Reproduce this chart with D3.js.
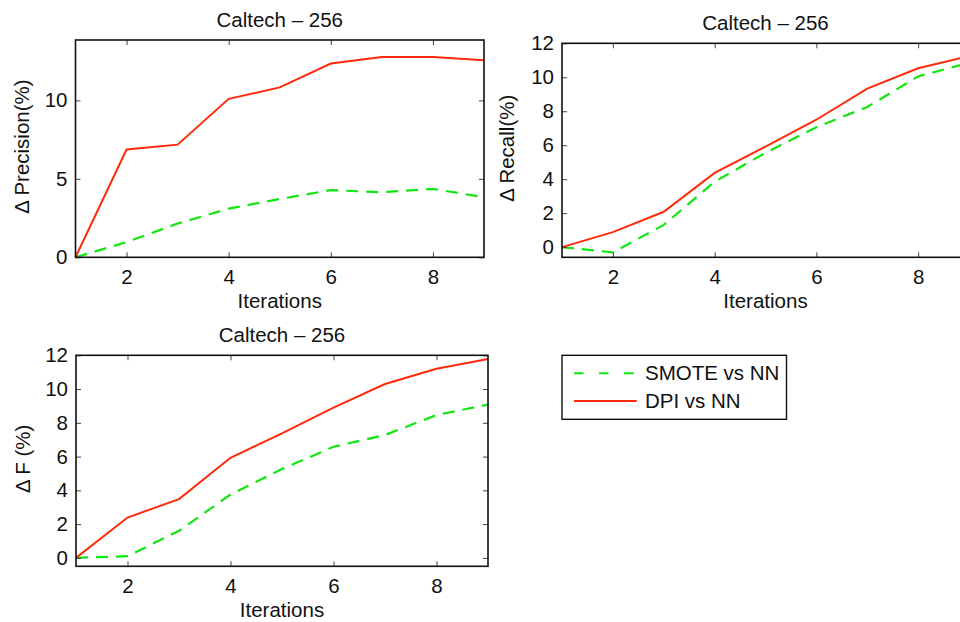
<!DOCTYPE html>
<html>
<head>
<meta charset="utf-8">
<script src="https://cdn.jsdelivr.net/npm/d3@7"></script>
<style>
    body { margin: 0; background: #fff; }
    svg { display: block; font-family: "Liberation Sans", Arial, Helvetica, sans-serif; }
</style>
</head>
<body>
<div id="chart"></div>
<script>
// iterations on the x axis
var iterations = [1, 2, 3, 4, 5, 6, 7, 8, 9];

// Delta precision (%)
var precisionSmote = [0, 0.97, 2.15, 3.1, 3.72, 4.28, 4.15, 4.36, 3.83];
var precisionDpi = [0, 6.87, 7.18, 10.1, 10.83, 12.35, 12.77, 12.77, 12.56];

// Delta recall (%)
var recallSmote = [0, -0.31, 1.31, 3.85, 5.55, 7.06, 8.25, 10.05, 10.86];
var recallDpi = [0, 0.88, 2.08, 4.37, 5.92, 7.5, 9.33, 10.53, 11.24];

// Delta F (%)
var fSmote = [0, 0.1, 1.6, 3.75, 5.26, 6.58, 7.28, 8.46, 9.08];
var fDpi = [0, 2.39, 3.48, 5.93, 7.38, 8.9, 10.3, 11.2, 11.78];

var xTicks = [2, 4, 6, 8];
var precisionTicks = [0, 5, 10];
var percentTicks = [0, 2, 4, 6, 8, 10, 12];

var seriesNames = ["SMOTE vs NN", "DPI vs NN"];
var red = "#ff2a0a";
var green = "#12e612";
var fontSize = "20.5px";

var svg = d3.select("#chart")
    .append("svg")
    .attr("width", 960)
    .attr("height", 622);

function drawPanel(opts) {
    var x = d3.scaleLinear().domain([1, 9]).range([opts.left, opts.right]);
    var y = d3.scaleLinear().domain(opts.yDomain).range([opts.bottom, opts.top]);

    var g = svg.append("g");

    // lines
    var line = d3.line()
        .x((d, i) => x(iterations[i]))
        .y(d => y(d));

    g.append("path")
        .datum(opts.smote)
        .attr("fill", "none")
        .attr("stroke", green)
        .attr("stroke-width", 2.2)
        .attr("stroke-dasharray", "12,8")
        .attr("d", line);

    g.append("path")
        .datum(opts.dpi)
        .attr("fill", "none")
        .attr("stroke", red)
        .attr("stroke-width", 2)
        .attr("d", line);

    // axes, ticks pointing inside the box
    var bottomAxis = g.append("g")
        .attr("transform", "translate(0," + opts.bottom + ")")
        .call(d3.axisBottom(x).tickValues(xTicks).tickSize(-5).tickPadding(12).tickSizeOuter(0));
    var leftAxis = g.append("g")
        .attr("transform", "translate(" + opts.left + ",0)")
        .call(d3.axisLeft(y).tickValues(opts.yTicks).tickSize(-5).tickPadding(8).tickSizeOuter(0));
    g.append("g")
        .attr("transform", "translate(0," + opts.top + ")")
        .call(d3.axisTop(x).tickValues(xTicks).tickSize(-5).tickFormat("").tickSizeOuter(0));
    g.append("g")
        .attr("transform", "translate(" + opts.right + ",0)")
        .call(d3.axisRight(y).tickValues(opts.yTicks).tickSize(-5).tickFormat("").tickSizeOuter(0));

    g.selectAll(".domain").remove();
    g.selectAll(".tick line").attr("stroke", "#444").attr("stroke-width", 1);
    g.selectAll(".tick text")
        .attr("fill", "#111")
        .style("font-size", fontSize)
        .style("font-family", "'Liberation Sans', Arial, Helvetica, sans-serif");

    // box
    g.append("rect")
        .attr("x", opts.left)
        .attr("y", opts.top)
        .attr("width", opts.right - opts.left)
        .attr("height", opts.bottom - opts.top)
        .attr("fill", "none")
        .attr("stroke", "#111")
        .attr("stroke-width", 1.6);

    // title
    g.append("text")
        .attr("x", (opts.left + opts.right) / 2)
        .attr("y", opts.top - 13)
        .attr("text-anchor", "middle")
        .style("font-size", fontSize)
        .attr("fill", "#111")
        .text("Caltech \u2013 256");

    // x label
    g.append("text")
        .attr("x", (opts.left + opts.right) / 2)
        .attr("y", opts.bottom + 51)
        .attr("text-anchor", "middle")
        .style("font-size", fontSize)
        .attr("fill", "#111")
        .text("Iterations");

    // y label
    g.append("text")
        .attr("transform", "translate(" + opts.yLabelX + "," + ((opts.top + opts.bottom) / 2 - 2) + ") rotate(-90)")
        .attr("text-anchor", "middle")
        .style("font-size", fontSize)
        .attr("fill", "#111")
        .text(opts.yLabel);
}

drawPanel({
    left: 75.5, right: 484, top: 40, bottom: 257.3,
    yDomain: [0, 13.85], yTicks: precisionTicks,
    smote: precisionSmote, dpi: precisionDpi,
    yLabel: "\u0394 Precision(%)", yLabelX: 28.5
});

drawPanel({
    left: 562, right: 969, top: 43.3, bottom: 257.3,
    yDomain: [-0.6, 12], yTicks: percentTicks,
    smote: recallSmote, dpi: recallDpi,
    yLabel: "\u0394 Recall(%)", yLabelX: 514
});

drawPanel({
    left: 76, right: 488, top: 355.3, bottom: 566.3,
    yDomain: [-0.5, 12], yTicks: percentTicks,
    smote: fSmote, dpi: fDpi,
    yLabel: "\u0394 F (%)", yLabelX: 29.5
});

// legend
var legend = svg.append("g");
legend.append("rect")
    .attr("x", 562)
    .attr("y", 355.3)
    .attr("width", 224.5)
    .attr("height", 64)
    .attr("fill", "#fff")
    .attr("stroke", "#111")
    .attr("stroke-width", 1.4);

var legendRows = [
    { name: seriesNames[0], color: green, dash: "9.5,15.5", y: 373.3 },
    { name: seriesNames[1], color: red, dash: null, y: 401 }
];

legendRows.forEach(function (r) {
    legend.append("line")
        .attr("x1", 574)
        .attr("x2", 636.7)
        .attr("y1", r.y)
        .attr("y2", r.y)
        .attr("stroke", r.color)
        .attr("stroke-width", 2)
        .attr("stroke-dasharray", r.dash);
    legend.append("text")
        .attr("x", 645)
        .attr("y", r.y)
        .attr("dy", "0.35em")
        .style("font-size", fontSize)
        .attr("fill", "#111")
        .text(r.name);
});
</script>
</body>
</html>
